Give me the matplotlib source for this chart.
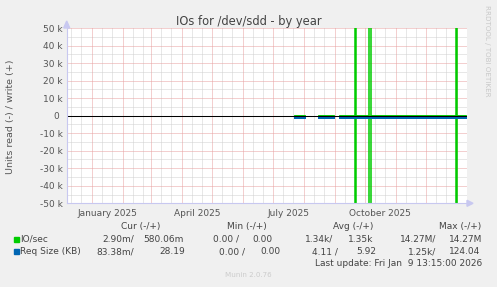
import numpy as np
import pandas as pd
import matplotlib
matplotlib.use("Agg")
import matplotlib.pyplot as plt
from matplotlib.patches import Polygon
from matplotlib.lines import Line2D
import matplotlib.transforms as mtransforms

# --- data ---
x_start = pd.Timestamp("2024-12-06 09:00")
x_end = pd.Timestamp("2026-01-10 09:00")

# spans where the disk data exists (daily bins)
data_spans = [("2025-07-23", "2025-08-01"), ("2025-08-16", "2025-08-30"), ("2025-09-06", "2026-01-10")]

# IO/sec spikes (daily averages), read shown negative / write positive
spike_days = ["2025-09-21", "2025-10-05", "2025-10-06", "2025-12-31"]
spike_read = [14.27e6, 9.5e6, 8.1e6, 12.4e6]
spike_write = [14.27e6, 9.8e6, 7.9e6, 12.6e6]

# request size is tiny compared with the 50k scale
req_read_typ = 4.11
req_write_typ = 5.92

yticks = [50000, 40000, 30000, 20000, 10000, 0, -10000, -20000, -30000, -40000, -50000]
ytick_labels = ["50 k", "40 k", "30 k", "20 k", "10 k", "0 ", "-10 k", "-20 k", "-30 k", "-40 k", "-50 k"]
xlabel_months = ["2025-01-01", "2025-04-01", "2025-07-01", "2025-10-01"]

series = ["IO/sec", "Req Size (KB)"]
colors = ["#00cc00", "#0066b3"]
cur = [("2.90m/", "580.06m"), ("83.38m/", "28.19")]
mins = [("0.00 /", "0.00"), ("0.00 /", "0.00")]
avgs = [("1.34k/", "1.35k"), ("4.11 /", "5.92")]
maxs = [("14.27M/", "14.27M"), ("1.25k/", "124.04")]
last_update = "Last update: Fri Jan  9 13:15:00 2026"

# --- build daily series ---
days = pd.date_range("2024-12-05", "2026-01-10", freq="D")
io_r = pd.Series(np.nan, index=days)
io_w = pd.Series(np.nan, index=days)
rq_r = pd.Series(np.nan, index=days)
rq_w = pd.Series(np.nan, index=days)
for a, b in data_spans:
    io_r[a:b] = 0.0
    io_w[a:b] = 0.0
    rq_r[a:b] = req_read_typ
    rq_w[a:b] = req_write_typ
for d, r, w in zip(spike_days, spike_read, spike_write):
    io_r[d] = r
    io_w[d] = w

W, H = 497, 287
fig = plt.figure(figsize=(W / 100, H / 100), dpi=100)
fig.patch.set_facecolor("#f0f0f0")

def fx(x):
    return x / W

def fy(y):
    return 1 - y / H

left, right, top, bottom = 66.7, 466.7, 28.0, 203.3
ax = fig.add_axes([fx(left), fy(bottom), (right - left) / W, (bottom - top) / H])
ax.set_facecolor("white")
for s in ax.spines.values():
    s.set_visible(False)

ax.set_xlim(x_start, x_end)
ax.set_ylim(-50000, 50000)

# dotted grid
red = "#e8a0a0"
gray = "#d0d0d0"
gkw = dict(lw=0.72, ls=(0, (1, 1)))
for v in range(-45000, 50000, 5000):
    if v % 10000:
        ax.axhline(v, color=gray, zorder=1, **gkw)
for v in range(-50000, 50001, 10000):
    ax.axhline(v, color=red, zorder=1.1, **gkw)

months = pd.date_range("2025-01-01", "2026-01-01", freq="MS")
minor = []
for m in pd.date_range("2024-12-01", "2026-01-01", freq="MS"):
    for d in (11, 21):
        t = m + pd.Timedelta(days=d - 1)
        if x_start < t < x_end:
            minor.append(t)
for t in minor:
    ax.axvline(t, color=gray, zorder=1, **gkw)
for t in months:
    ax.axvline(t, color=red, zorder=1.1, **gkw)

ax.set_yticks(yticks)
ax.set_yticklabels(ytick_labels)
ax.set_xticks([pd.Timestamp(m) + pd.Timedelta(days=15) for m in xlabel_months])
ax.set_xticklabels([pd.Timestamp(m).strftime("%B %Y") for m in xlabel_months])
ax.tick_params(axis="both", length=0, labelsize=6.5, labelcolor="#555555", pad=3)
ax.tick_params(axis="x", pad=4)

# IO/sec (green)
ax.step(days, io_w, where="post", color=colors[0], lw=1.1, zorder=2, snap=True)
ax.step(days, -io_r, where="post", color=colors[0], lw=1.1, zorder=2, snap=True)

# req size (blue) just below the zero line
shift = mtransforms.ScaledTranslation(0, -1.9 / 100, fig.dpi_scale_trans)
ax.step(days, -rq_r, where="post", color=colors[1], lw=1.4, zorder=2.5,
        transform=ax.transData + shift)
ax.step(days, rq_w, where="post", color=colors[1], lw=1.4, zorder=2.5,
        transform=ax.transData + shift)

# zero line
ax.axhline(0, color="black", lw=0.75, zorder=3)

# axes with arrows
axis_c = "#c8c8f0"
fig.add_artist(Line2D([fx(left), fx(470)], [fy(bottom), fy(bottom)], color=axis_c, lw=0.8))
fig.add_artist(Line2D([fx(left), fx(left)], [fy(bottom), fy(24)], color=axis_c, lw=0.8))
fig.add_artist(Polygon([[fx(467), fy(bottom - 3)], [fx(467), fy(bottom + 3)], [fx(473), fy(bottom)]],
                       closed=True, color=axis_c, transform=fig.transFigure))
fig.add_artist(Polygon([[fx(left - 3), fy(28)], [fx(left + 3), fy(28)], [fx(left), fy(21)]],
                       closed=True, color=axis_c, transform=fig.transFigure))

# texts
fig.text(fx(248.7), fy(21), "IOs for /dev/sdd - by year", ha="center", va="center",
         fontsize=8.3, color="#444444")
fig.text(fx(11), fy(116.5), "Units read (-) / write (+)", rotation=90, ha="center", va="center",
         fontsize=6.8, color="#555555")
fig.text(fx(487), fy(51), "RRDTOOL / TOBI OETIKER", rotation=270, ha="center", va="center",
         fontsize=5.1, color="#c8c8c8")

lc = "#444444"
fs = 6.5
hy = 226.7
for txt, xl in zip(["Cur (-/+)", "Min (-/+)", "Avg (-/+)", "Max (-/+)"], [120.7, 226.7, 333.3, 439.3]):
    fig.text(fx(xl), fy(hy), txt, ha="left", va="center", fontsize=fs, color=lc)

row_y = [239.3, 251.7]
col_right = [
    [134.3, 184.0, 239.3, 272.7, 333.3, 373.3, 436.7, 482.3],
    [134.3, 185.0, 245.0, 280.7, 338.3, 376.0, 436.7, 480.0],
]
for i in range(2):
    y = row_y[i]
    fig.add_artist(Polygon([[fx(14), fy(y - 2.7)], [fx(19.3), fy(y - 2.7)], [fx(19.3), fy(y + 2.7)],
                            [fx(14), fy(y + 2.7)]], closed=True, color=colors[i], transform=fig.transFigure))
    fig.text(fx(20), fy(y), series[i], ha="left", va="center", fontsize=fs, color=lc)
    vals = list(cur[i]) + list(mins[i]) + list(avgs[i]) + list(maxs[i])
    for v, xr in zip(vals, col_right[i]):
        fig.text(fx(xr), fy(y), v, ha="right", va="center", fontsize=fs, color=lc)

fig.text(fx(482.3), fy(263.3), last_update, ha="right", va="center", fontsize=fs, color=lc)
fig.text(fx(225), fy(275), "Munin 2.0.76", ha="left", va="center", fontsize=5.1, color="#cccccc")

fig.savefig("out.png", dpi=100, facecolor=fig.get_facecolor())
